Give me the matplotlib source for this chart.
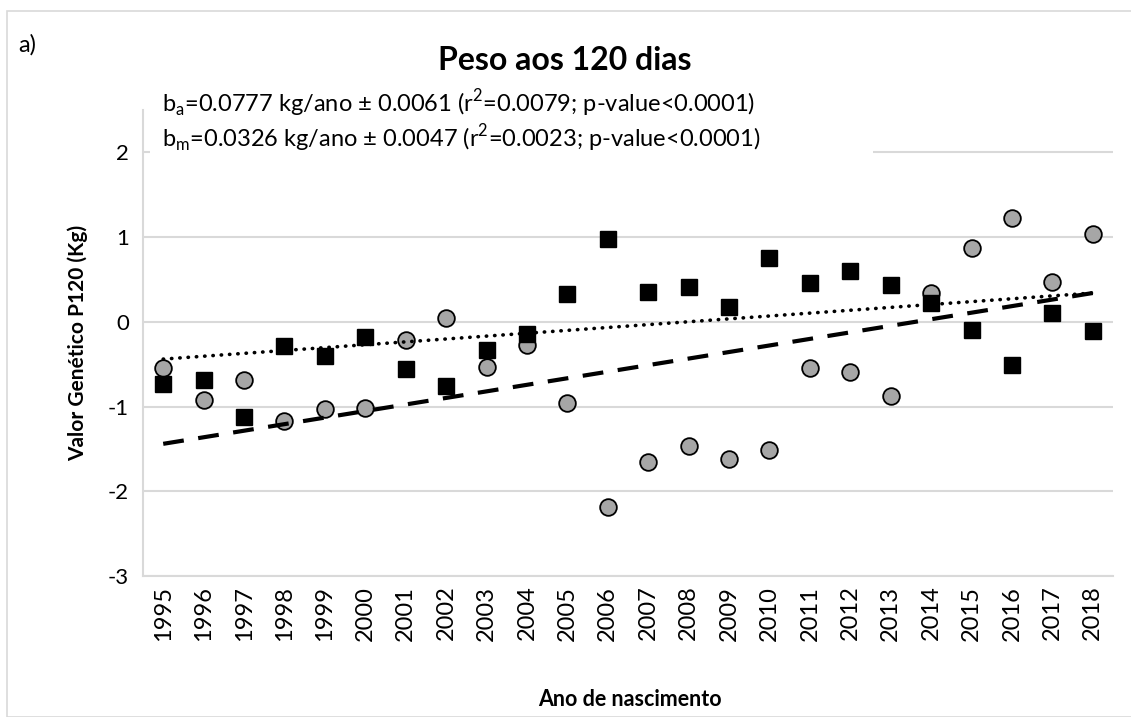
import numpy as np
import matplotlib
matplotlib.use('Agg')
import matplotlib.pyplot as plt
from matplotlib.patches import Rectangle

plt.rcParams['font.family'] = ['Lato', 'DejaVu Sans']

# data
anos = [str(a) for a in range(1995, 2019)]
vg_aditivo = [-0.55, -0.92, -0.69, -1.17, -1.03, -1.02, -0.22, 0.04, -0.53, -0.27,
              -0.96, -2.18, -1.65, -1.46, -1.62, -1.51, -0.55, -0.59, -0.87, 0.34,
              0.87, 1.22, 0.47, 1.04]
vg_materno = [-0.73, -0.69, -1.12, -0.29, -0.40, -0.18, -0.56, -0.76, -0.33, -0.14,
              0.33, 0.98, 0.35, 0.41, 0.17, 0.75, 0.46, 0.60, 0.44, 0.22,
              -0.10, -0.51, 0.10, -0.11]
# trend lines (value at first and last year)
tend_aditivo = [-1.44, 0.34]
tend_materno = [-0.44, 0.34]
yticks = [-3, -2, -1, 0, 1, 2]

x = np.arange(len(anos))

fig = plt.figure(figsize=(11.31, 7.17), dpi=100)
fig.patches.append(Rectangle((7/1131, 0), 1.0, 1 - 11/717, transform=fig.transFigure,
                             fill=False, edgecolor='#d9d9d9', linewidth=1.2))
ax = fig.add_axes([143/1131, 1 - 576/717, (1113 - 143)/1131, (576 - 110)/717])

ax.plot(x, vg_aditivo, 'o', ms=12, mfc='#a6a6a6', mec='black', mew=1.3, zorder=3)
ax.plot(x, vg_materno, 's', ms=11, mfc='black', mec='black', zorder=4)
ax.plot([x[0], x[-1]], tend_aditivo, color='black', lw=3.0, ls=(0, (5, 3.5)), zorder=5)
ax.plot([x[0], x[-1]], tend_materno, color='black', lw=2.6, ls=(0, (0.1, 2.2)),
        dash_capstyle='round', zorder=5)

ax.set_xlim(-0.5, len(anos) - 0.5)
ax.set_ylim(-3, 2.5)
ax.set_yticks(yticks)
ax.set_yticklabels([str(v) for v in yticks], fontsize=16)
ax.set_xticks(x)
ax.set_xticklabels(anos, rotation=90, fontsize=17)
ax.tick_params(length=0, pad=7)
ax.tick_params(axis='y', pad=10)
ax.grid(axis='y', color='#d9d9d9', lw=1.5)
ax.set_axisbelow(True)
for s in ['top', 'right']:
    ax.spines[s].set_visible(False)
ax.spines['left'].set_color('#d9d9d9')
ax.spines['left'].set_linewidth(1.5)
ax.spines['bottom'].set_color('#d9d9d9')
ax.spines['bottom'].set_linewidth(1.5)

ax.set_ylabel('Valor Genético P120 (Kg)', fontsize=15, fontweight='bold', labelpad=14)
fig.text(630/1131, 1 - 700/717, 'Ano de nascimento', fontsize=15.5, fontweight='bold',
         ha='center', va='center')
fig.text(565/1131, 1 - 60/717, 'Peso aos 120 dias', fontsize=23, fontweight='bold',
         ha='center', va='center')
fig.text(27/1131, 1 - 45/717, 'a)', fontsize=17, ha='center', va='center')

# white box behind the regression text
fig.patches.append(Rectangle((150/1131, 1 - 160/717), (873 - 150)/1131, 68/717,
                             transform=fig.transFigure, facecolor='white',
                             edgecolor='none', zorder=2))
fig.text(162/1131, 1 - 104/717,
         r'b$_\mathregular{a}$=0.0777 kg/ano ± 0.0061 (r$^\mathregular{2}$=0.0079; p-value<0.0001)',
         fontsize=17, ha='left', va='center', zorder=3)
fig.text(162/1131, 1 - 139/717,
         r'b$_\mathregular{m}$=0.0326 kg/ano ± 0.0047 (r$^\mathregular{2}$=0.0023; p-value<0.0001)',
         fontsize=17, ha='left', va='center', zorder=3)

plt.savefig('out.png', dpi=100)
